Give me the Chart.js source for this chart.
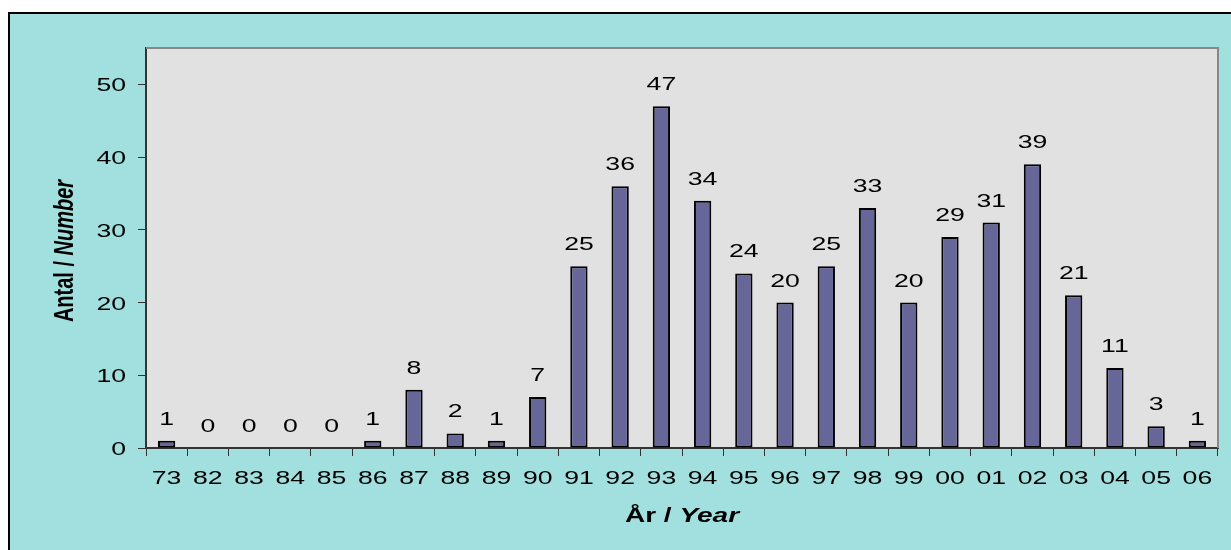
<!DOCTYPE html>
<html>
<head>
<meta charset="utf-8">
<title>Antal / Number per year</title>
<script src="https://cdn.jsdelivr.net/npm/chart.js@4"></script>
<style>
  html, body { margin: 0; padding: 0; background: #ffffff; }
  #wrap { width: 1231px; height: 550px; position: relative; }
</style>
</head>
<body>
<div id="wrap"><canvas id="myChart" width="1231" height="550"></canvas></div>
<script>
'use strict';

let years = ['73', '82', '83', '84', '85', '86', '87', '88', '89', '90', '91', '92', '93',
  '94', '95', '96', '97', '98', '99', '00', '01', '02', '03', '04', '05', '06'];
let counts = [1, 0, 0, 0, 0, 1, 8, 2, 1, 7, 25, 36, 47, 34, 24, 20, 25, 33, 20, 29, 31, 39, 21, 11, 3, 1];
let yTicks = [0, 10, 20, 30, 40, 50];

let font = '"Liberation Sans", Arial, sans-serif';
// the original picture is stretched sideways, so text is widened too
let stretch = 1.4;

// draw text widened by `stretch`, optionally rotated
function wideText(ctx, parts, x, y, align, angle) {
  ctx.save();
  ctx.translate(x, y);
  ctx.scale(stretch, 1);
  ctx.rotate(angle || 0);
  let total = 0;
  for (let p of parts) {
    ctx.font = p.font;
    p.w = ctx.measureText(p.text).width;
    total += p.w;
  }
  let pos = 0;
  if (align === 'center') pos = -total / 2;
  if (align === 'right') pos = -total;
  ctx.textAlign = 'left';
  ctx.textBaseline = 'alphabetic';
  for (let p of parts) {
    ctx.font = p.font;
    ctx.fillText(p.text, pos, 0);
    pos += p.w;
  }
  ctx.restore();
}

// background box, plot area fill and the grey top/right frame
let frame = {
  id: 'frame',
  beforeDraw(chart) {
    let ctx = chart.ctx;
    let a = chart.chartArea;
    ctx.save();
    ctx.fillStyle = '#ffffff';
    ctx.fillRect(0, 0, chart.width, chart.height);
    ctx.fillStyle = '#a2e0e0';
    ctx.fillRect(8, 12, chart.width, chart.height);
    ctx.strokeStyle = '#000000';
    ctx.lineWidth = 2;
    ctx.beginPath();
    ctx.moveTo(9, chart.height);
    ctx.lineTo(9, 13);
    ctx.lineTo(chart.width, 13);
    ctx.stroke();
    ctx.fillStyle = '#e1e1e1';
    ctx.fillRect(a.left, a.top, a.right - a.left, a.bottom - a.top);
    ctx.restore();
  },
  afterDraw(chart) {
    let ctx = chart.ctx;
    let a = chart.chartArea;
    let xs = chart.scales.x;
    let ys = chart.scales.y;
    ctx.save();
    ctx.strokeStyle = '#888888';
    ctx.lineWidth = 2;
    ctx.beginPath();
    ctx.moveTo(a.left, a.top);
    ctx.lineTo(a.right, a.top);
    ctx.lineTo(a.right, a.bottom);
    ctx.stroke();

    ctx.fillStyle = '#000000';
    let tickFont = '19px ' + font;
    for (let i = 0; i < years.length; i++) {
      wideText(ctx, [{ text: years[i], font: tickFont }], xs.getPixelForTick(i), a.bottom + 36, 'center');
    }
    for (let v of yTicks) {
      wideText(ctx, [{ text: String(v), font: tickFont }], 126, ys.getPixelForValue(v) + 7, 'right');
    }

    // axis titles with the english part in italic
    let b = 'bold 20px ' + font;
    let bi = 'italic bold 20px ' + font;
    wideText(ctx, [{ text: 'År / ', font: b }, { text: 'Year', font: bi }], (a.left + a.right) / 2, 522, 'center');
    wideText(ctx, [{ text: 'Antal / ', font: b }, { text: 'Number', font: bi }], 73, 251, 'center', -Math.PI / 2);
    ctx.restore();
  }
};

// value above each bar
let valueLabels = {
  id: 'valueLabels',
  afterDatasetsDraw(chart) {
    let ctx = chart.ctx;
    let meta = chart.getDatasetMeta(0);
    ctx.save();
    ctx.fillStyle = '#000000';
    for (let i = 0; i < meta.data.length; i++) {
      let bar = meta.data[i];
      wideText(ctx, [{ text: String(counts[i]), font: '19px ' + font }], bar.x, bar.y - 16, 'center');
    }
    ctx.restore();
  }
};

let chartStuff = {
  type: 'bar',
  data: {
    labels: years,
    datasets: [{
      label: 'Antal / Number',
      data: counts,
      backgroundColor: '#666699',
      borderColor: '#000000',
      borderWidth: 2,
      borderSkipped: false,
      categoryPercentage: 1,
      barPercentage: 0.42
    }]
  },
  options: {
    responsive: false,
    animation: false,
    layout: { padding: { top: 48, right: 13, left: 0, bottom: 0 } },
    plugins: {
      legend: { display: false },
      tooltip: { enabled: false }
    },
    scales: {
      x: {
        afterFit(scale) { scale.height = 102; },
        grid: {
          drawOnChartArea: false,
          drawTicks: true,
          tickLength: 8,
          tickColor: '#333333',
          offset: true
        },
        border: { color: '#333333', width: 2 },
        ticks: { display: false, autoSkip: false }
      },
      y: {
        min: 0,
        max: 55,
        afterFit(scale) { scale.width = 146; },
        afterBuildTicks(scale) {
          scale.ticks = yTicks.map(v => ({ value: v }));
        },
        grid: {
          drawOnChartArea: false,
          drawTicks: true,
          tickLength: 8,
          tickColor: '#333333'
        },
        border: { color: '#333333', width: 2 },
        ticks: { display: false }
      }
    }
  },
  plugins: [frame, valueLabels]
};

const ctx = document.getElementById('myChart').getContext('2d');
// eslint-disable-next-line no-undef
new Chart(ctx, chartStuff);
</script>
</body>
</html>
